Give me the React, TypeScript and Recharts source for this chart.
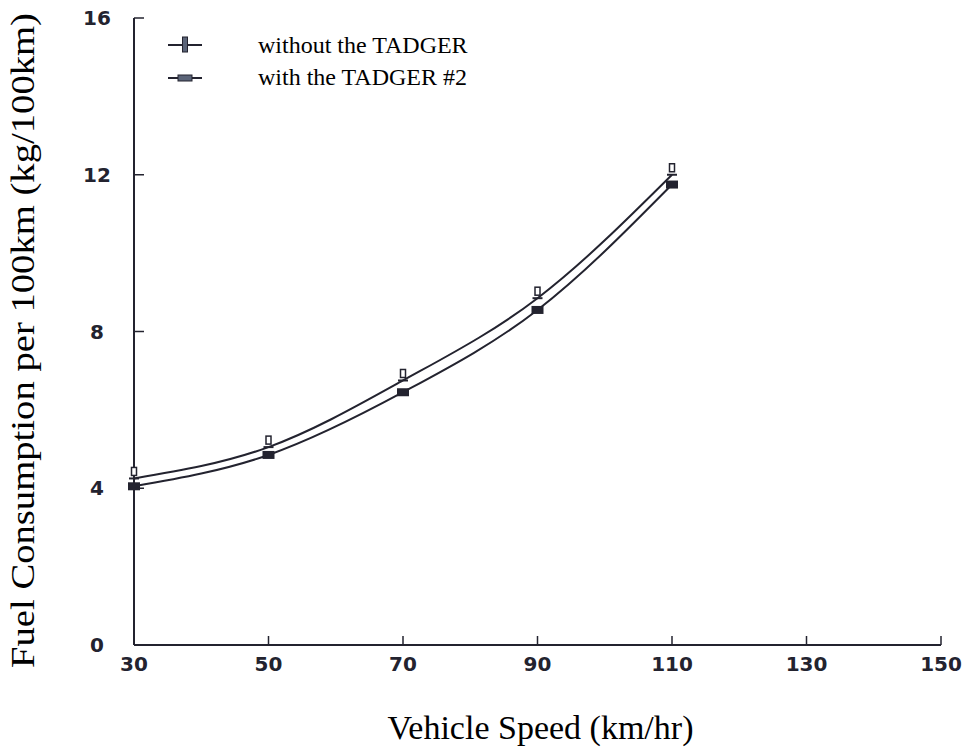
import React from "react";
import { ComposedChart, Line, XAxis, YAxis } from "recharts";

const speeds = [30, 50, 70, 90, 110];
const withoutTadger = [4.25, 5.05, 6.75, 8.85, 12.0];
const withTadger2 = [4.05, 4.85, 6.45, 8.55, 11.75];
const xTicks = [30, 50, 70, 90, 110, 130, 150];
const yTicks = [0, 4, 8, 12, 16];

const data = speeds.map((s, i) => ({
  speed: s,
  without: withoutTadger[i],
  with2: withTadger2[i],
}));

const INK = "#23232f";
const SERIF = "'Liberation Serif', 'Times New Roman', serif";
const TICK_FONT = "'DejaVu Sans', sans-serif";

const XTick = (props: any) => {
  const { x, y, payload } = props;
  return (
    <g>
      {payload.value !== 30 && (
        <line x1={x} x2={x} y1={y} y2={y - 9} stroke={INK} strokeWidth={1.5} />
      )}
      <text x={x} y={y + 26} textAnchor="middle" fontFamily={TICK_FONT} fontWeight="bold" fontSize={20} fill={INK}>
        {payload.value}
      </text>
    </g>
  );
};

const YTick = (props: any) => {
  const { x, y, payload } = props;
  return (
    <g>
      {payload.value !== 0 && (
        <line x1={x} x2={x + 10} y1={y} y2={y} stroke={INK} strokeWidth={1.5} />
      )}
      <text x={x - 37} y={y + 7} textAnchor="middle" fontFamily={TICK_FONT} fontWeight="bold" fontSize={20} fill={INK}>
        {payload.value}
      </text>
    </g>
  );
};

const XLabel = (props: any) => {
  const { viewBox } = props;
  return (
    <text x={viewBox.x + viewBox.width / 2 + 3} y={viewBox.y + 94} textAnchor="middle" fontFamily={SERIF} fontSize={34} fill="#000">
      Vehicle Speed (km/hr)
    </text>
  );
};

const YLabel = (props: any) => {
  const { viewBox } = props;
  const cx = 34;
  const cy = viewBox.y + viewBox.height / 2 + 9;
  return (
    <text
      x={cx}
      y={cy}
      transform={`rotate(-90 ${cx} ${cy})`}
      textAnchor="middle"
      fontFamily={SERIF}
      fontSize={33}
      textLength={655}
      lengthAdjust="spacingAndGlyphs"
      fill="#000"
    >
      Fuel Consumption per 100km (kg/100km)
    </text>
  );
};

const OpenDot = (props: any) => {
  const { cx, cy } = props;
  if (cx == null || cy == null) return null;
  return (
    <g>
      <rect x={cx - 2.5} y={cy - 11} width={5} height={8} fill="#fff" stroke={INK} strokeWidth={1.5} />
      <line x1={cx - 5} x2={cx + 5} y1={cy} y2={cy} stroke={INK} strokeWidth={2} />
    </g>
  );
};

const FilledDot = (props: any) => {
  const { cx, cy } = props;
  if (cx == null || cy == null) return null;
  return <rect x={cx - 6} y={cy - 4} width={12} height={8} fill={INK} />;
};

const LegendBox = () => (
  <div style={{ position: "absolute", left: 158, top: 29, fontFamily: SERIF, fontSize: 24, color: "#000", lineHeight: "32px" }}>
    <div style={{ display: "flex", alignItems: "center" }}>
      <svg width={100} height={32}>
        <line x1={10} x2={44} y1={16} y2={16} stroke={INK} strokeWidth={2} />
        <rect x={24.5} y={8} width={5} height={15} fill="#5b6478" stroke={INK} strokeWidth={1} />
      </svg>
      <span>without the TADGER</span>
    </div>
    <div style={{ display: "flex", alignItems: "center" }}>
      <svg width={100} height={32}>
        <line x1={10} x2={44} y1={17} y2={17} stroke={INK} strokeWidth={2} />
        <rect x={20} y={14} width={14} height={6} fill="#5b6478" stroke={INK} strokeWidth={1} />
      </svg>
      <span>with the TADGER #2</span>
    </div>
  </div>
);

export default function App() {
  return (
    <div style={{ position: "absolute", left: 0, top: 0, width: 980, height: 750, background: "#fff" }}>
      <ComposedChart width={980} height={750} data={data} margin={{ top: 18, right: 39, bottom: 45, left: 74 }}>
        <XAxis
          dataKey="speed"
          type="number"
          domain={[30, 150]}
          ticks={xTicks}
          height={60}
          tickSize={0}
          tickMargin={0}
          tickLine={false}
          axisLine={{ stroke: INK, strokeWidth: 2 }}
          tick={<XTick />}
          label={<XLabel />}
        />
        <YAxis
          type="number"
          domain={[0, 16]}
          ticks={yTicks}
          width={60}
          tickSize={0}
          tickMargin={0}
          tickLine={false}
          axisLine={{ stroke: INK, strokeWidth: 2 }}
          tick={<YTick />}
          label={<YLabel />}
        />
        <Line
          dataKey="without"
          name="without the TADGER"
          type="monotone"
          stroke={INK}
          strokeWidth={2}
          dot={<OpenDot />}
          isAnimationActive={false}
        />
        <Line
          dataKey="with2"
          name="with the TADGER #2"
          type="monotone"
          stroke={INK}
          strokeWidth={2}
          dot={<FilledDot />}
          isAnimationActive={false}
        />
      </ComposedChart>
      <LegendBox />
    </div>
  );
}
